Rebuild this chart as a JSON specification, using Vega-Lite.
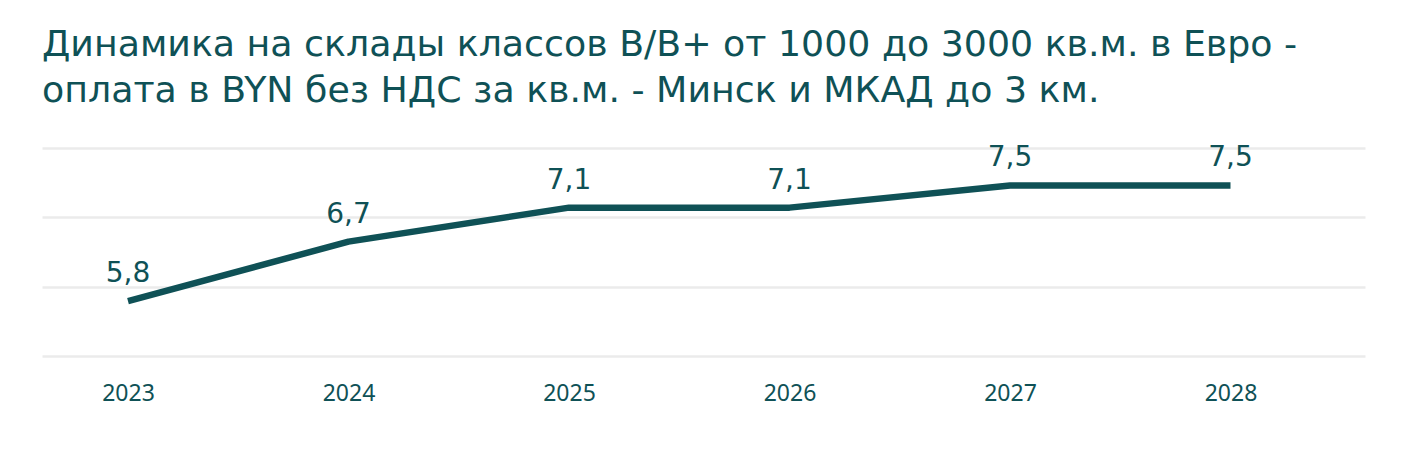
{
  "$schema": "https://vega.github.io/schema/vega-lite/v6.json",
  "autosize": {"type": "none"},
  "width": 1323,
  "height": 208,
  "padding": {"left": 42, "top": 148, "right": 37, "bottom": 102},
  "background": "#ffffff",
  "title": {
    "text": ["Динамика на склады классов B/B+ от 1000 до 3000 кв.м. в Евро -", "оплата в BYN без НДС за кв.м. - Минск и МКАД до 3 км."],
    "anchor": "start",
    "frame": "group",
    "font": "DejaVu Sans",
    "fontSize": 36.3,
    "fontWeight": "normal",
    "color": "#0f5156",
    "lineHeight": 46,
    "offset": 35
  },
  "data": {
    "values": [
      {"year": "2023", "value": 5.79},
      {"year": "2024", "value": 6.65},
      {"year": "2025", "value": 7.14},
      {"year": "2026", "value": 7.14},
      {"year": "2027", "value": 7.46},
      {"year": "2028", "value": 7.46}
    ]
  },
  "encoding": {
    "x": {
      "field": "year",
      "type": "ordinal",
      "scale": {"type": "point", "padding": 0.5, "align": 0.39},
      "axis": {
        "title": null,
        "labelAngle": 0,
        "domain": false,
        "ticks": false,
        "grid": false,
        "labelFont": "Noto Sans",
        "labelFontSize": 23,
        "labelColor": "#0f5156",
        "labelPadding": 26
      }
    },
    "y": {
      "field": "value",
      "type": "quantitative",
      "scale": {"domain": [5, 8], "nice": false, "zero": false},
      "axis": {
        "title": null,
        "values": [5, 6, 7, 8],
        "labels": false,
        "ticks": false,
        "domain": false,
        "grid": true,
        "gridColor": "#ebebeb",
        "gridWidth": 2.5
      }
    }
  },
  "layer": [
    {
      "mark": {"type": "line", "color": "#0f5156", "strokeWidth": 6.5, "strokeCap": "butt", "strokeJoin": "round"}
    },
    {
      "mark": {"type": "text", "font": "DejaVu Sans", "fontSize": 28, "color": "#0f5156", "baseline": "alphabetic", "dy": -19},
      "encoding": {
        "text": {"field": "value", "type": "quantitative", "format": ".1f"}
      }
    }
  ],
  "config": {
    "view": {"stroke": null},
    "locale": {
      "number": {"decimal": ",", "thousands": " ", "grouping": [3], "currency": ["", ""]}
    }
  }
}
